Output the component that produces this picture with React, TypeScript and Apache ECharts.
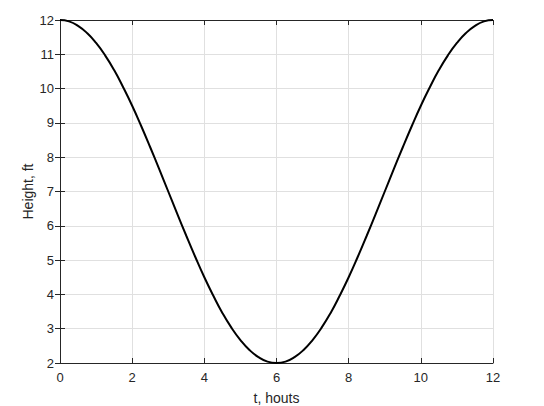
import React, { useEffect, useRef } from "react";
import * as echarts from "echarts";

const tHours = [
  0, 0.25, 0.5, 0.75, 1, 1.25, 1.5, 1.75, 2, 2.25, 2.5, 2.75, 3, 3.25, 3.5, 3.75,
  4, 4.25, 4.5, 4.75, 5, 5.25, 5.5, 5.75, 6, 6.25, 6.5, 6.75, 7, 7.25, 7.5, 7.75,
  8, 8.25, 8.5, 8.75, 9, 9.25, 9.5, 9.75, 10, 10.25, 10.5, 10.75, 11, 11.25, 11.5,
  11.75, 12,
];
const heightFt = [
  12, 11.96, 11.83, 11.62, 11.33, 10.97, 10.54, 10.04, 9.5, 8.91, 8.29, 7.65, 7,
  6.35, 5.71, 5.09, 4.5, 3.96, 3.46, 3.03, 2.67, 2.38, 2.17, 2.04, 2, 2.04, 2.17,
  2.38, 2.67, 3.03, 3.46, 3.96, 4.5, 5.09, 5.71, 6.35, 7, 7.65, 8.29, 8.91, 9.5,
  10.04, 10.54, 10.97, 11.33, 11.62, 11.83, 11.96, 12,
];
const xTicks = { min: 0, max: 12, interval: 2 };
const yTicks = { min: 2, max: 12, interval: 1 };
const xLabel = "t, houts";
const yLabel = "Height, ft";

const FONT = "Liberation Sans, Arial, Helvetica, sans-serif";
const TEXT = "#262626";

export default function App() {
  const ref = useRef<HTMLDivElement>(null);
  useEffect(() => {
    if (!ref.current) return;
    const chart = echarts.init(ref.current, null, { renderer: "svg" });
    const axisLine = { show: true, lineStyle: { color: TEXT, width: 1 } };
    const gridLine = { show: true, lineStyle: { color: "#e0e0e0", width: 1 } };
    const tick = { show: true, inside: true, length: 5, lineStyle: { color: TEXT, width: 1 } };
    chart.setOption({
      animation: false,
      backgroundColor: "#ffffff",
      grid: {
        left: 60,
        right: 51,
        top: 20,
        bottom: 43,
        containLabel: false,
        outerBoundsMode: "none",
      },
      xAxis: [
        {
          type: "value",
          position: "bottom",
          ...xTicks,
          name: xLabel,
          nameLocation: "middle",
          nameGap: 28,
          nameMoveOverlap: false,
          nameTextStyle: { fontFamily: FONT, fontSize: 14, color: TEXT },
          axisLine,
          axisTick: tick,
          axisLabel: { fontFamily: FONT, fontSize: 13, color: TEXT, margin: 8 },
          splitLine: gridLine,
        },
        {
          type: "value",
          position: "top",
          ...xTicks,
          axisLine,
          axisTick: tick,
          axisLabel: { show: false },
          splitLine: { show: false },
        },
      ],
      yAxis: [
        {
          type: "value",
          position: "left",
          ...yTicks,
          name: yLabel,
          nameLocation: "middle",
          nameGap: 25,
          nameMoveOverlap: false,
          nameTextStyle: { fontFamily: FONT, fontSize: 14, color: TEXT },
          axisLine,
          axisTick: tick,
          axisLabel: { fontFamily: FONT, fontSize: 13, color: TEXT, margin: 6 },
          splitLine: gridLine,
        },
        {
          type: "value",
          position: "right",
          ...yTicks,
          axisLine,
          axisTick: tick,
          axisLabel: { show: false },
          splitLine: { show: false },
        },
      ],
      series: [
        {
          type: "line",
          xAxisIndex: 0,
          yAxisIndex: 0,
          data: tHours.map((t, i) => [t, heightFt[i]]),
          smooth: true,
          showSymbol: false,
          lineStyle: { color: "#000000", width: 2 },
          clip: false,
        },
      ],
    });
    return () => chart.dispose();
  }, []);
  return (
    <div
      ref={ref}
      style={{ position: "fixed", left: 0, top: 0, width: 544, height: 406, background: "#fff" }}
    />
  );
}
